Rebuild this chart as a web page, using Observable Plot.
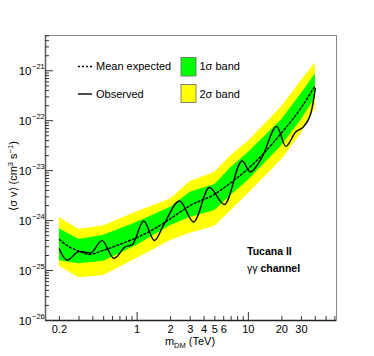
<!DOCTYPE html>
<html><head><meta charset="utf-8">
<script src="https://cdn.jsdelivr.net/npm/d3@7"></script>
<script src="https://cdn.jsdelivr.net/npm/@observablehq/plot@0.6"></script>
<style>
body{margin:0;background:#fff}
svg{font-family:"Liberation Sans",Arial,Helvetica,sans-serif}
</style>
</head><body><div id="chart"></div>
<script>
// ---- data ----
const massBand   = [0.2, 0.3, 0.5, 1, 2, 3, 5, 7, 10, 20, 30, 40];
const yellowHigh = [1.15e-24, 6.6e-25, 7.9e-25, 1.5e-24, 2.7e-24, 6.1e-24, 9.3e-24, 2.0e-23, 3.9e-23, 1.93e-22, 6.4e-22, 1.43e-21];
const greenHigh  = [6.9e-25, 4.2e-25, 5.1e-25, 9.3e-25, 1.85e-24, 3.7e-24, 5.3e-24, 1.16e-23, 2.3e-23, 1.06e-22, 3.5e-22, 8.6e-22];
const greenLow   = [1.57e-25, 1.37e-25, 1.53e-25, 3.2e-25, 8.0e-25, 1.16e-24, 1.6e-24, 3.2e-24, 6.4e-24, 3.2e-23, 1.06e-22, 2.8e-22];
const yellowLow  = [1.22e-25, 7.2e-26, 8.0e-26, 1.76e-25, 4.0e-25, 5.6e-25, 7.7e-25, 1.6e-24, 3.5e-24, 1.68e-23, 5.6e-23, 1.76e-22];

const massExpected = [0.2, 0.25, 0.3, 0.37, 0.5, 0.7, 1, 1.5, 2, 3, 5, 7, 10, 20, 30, 40];
const meanExpected = [4.2e-25, 2.9e-25, 2.45e-25, 2.1e-25, 2.55e-25, 3.35e-25, 4.6e-25, 7.3e-25, 1.1e-24, 2.0e-24, 3.4e-24, 5.8e-24, 1.1e-23, 5.8e-23, 1.85e-22, 5.1e-22];

const massObserved = [0.2, 0.235, 0.3, 0.38, 0.483, 0.62, 0.785, 0.9, 1.146, 1.43, 1.73, 2.41, 3.22, 4.46, 6.09, 8.78, 10.4, 13.3, 18.0, 21.7, 26.5, 31.8, 36.8, 40];
const observed     = [2.67e-25, 1.61e-25, 2.4e-25, 2.25e-25, 3.98e-25, 1.76e-25, 3.0e-25, 3.25e-25, 9.8e-25, 4.0e-25, 8.2e-25, 2.47e-24, 9.4e-25, 4.6e-24, 2.1e-24, 1.56e-23, 9.4e-24, 1.87e-23, 7.7e-23, 3.06e-23, 5.9e-23, 7.9e-23, 1.53e-22, 4.4e-22];

const xTickLabels = [0.2, 1, 2, 3, 4, 5, 6, 10, 20, 30];
const yDecades = [-26, -25, -24, -23, -22, -21];
const xDomain = [0.15, 62];
const yDomain = [1e-26, 5.08e-21];

// ---- derived tables ----
const band = massBand.map((m, i) => ({m, yh: yellowHigh[i], gh: greenHigh[i], gl: greenLow[i], yl: yellowLow[i]}));
const expected = massExpected.map((m, i) => ({m, v: meanExpected[i]}));
const obs = massObserved.map((m, i) => ({m, v: observed[i]}));

// tick positions (log minor ticks)
const xMinor = [], xMajor = [1, 10];
for (const dec of [0.1, 1, 10]) for (let k = 2; k <= 9; k++) { const v = k * dec; if (v >= xDomain[0] && v <= xDomain[1]) xMinor.push(v); }
const yMajor = yDecades.map(d => 10 ** d);
const yMinor = [];
for (const d of yDecades) for (let k = 2; k <= 9; k++) { const v = k * 10 ** d; if (v <= yDomain[1]) yMinor.push(v); }

const W = 374, H = 356, mL = 45, mR = 38, mT = 35, mB = 36;
const frameH = H - mT - mB, frameW = W - mL - mR;

const chart = Plot.plot({
  width: W, height: H,
  marginLeft: mL, marginRight: mR, marginTop: mT, marginBottom: mB,
  style: {fontFamily: '"Liberation Sans", Arial, sans-serif', fontSize: "11px", background: "#fff"},
  x: {type: "log", domain: xDomain, axis: null},
  y: {type: "log", domain: yDomain, axis: null},
  marks: [
    Plot.areaY(band, {x: "m", y1: "yl", y2: "yh", fill: "#ffff00"}),
    Plot.areaY(band, {x: "m", y1: "gl", y2: "gh", fill: "#00ff00"}),
    Plot.line(expected, {x: "m", y: "v", stroke: "#000", strokeWidth: 1.4, strokeDasharray: "2,2.2", curve: "monotone-x"}),
    Plot.line(obs, {x: "m", y: "v", stroke: "#000", strokeWidth: 1.4, curve: "monotone-x"}),
    Plot.frame({stroke: "#888", strokeWidth: 1}),
    Plot.ruleX([xDomain[0]], {stroke: "#666", strokeWidth: 1.6}),
    Plot.ruleY([yDomain[0]], {stroke: "#222", strokeWidth: 1.4}),
    // inside ticks
    Plot.tickX(xMinor, {x: d => d, insetTop: frameH - 4, stroke: "#333"}),
    Plot.tickX(xMajor, {x: d => d, insetTop: frameH - 8, stroke: "#333"}),
    Plot.tickY(yMinor, {y: d => d, insetRight: frameW - 4, stroke: "#333"}),
    Plot.tickY(yMajor, {y: d => d, insetRight: frameW - 8, stroke: "#333"}),
    // tick labels
    Plot.text(xTickLabels, {x: d => d, text: d => String(d), frameAnchor: "bottom", lineAnchor: "top", dy: 5, fontSize: 11, fill: "#000"}),
    Plot.text(yMajor, {y: d => d, text: () => "10", frameAnchor: "left", textAnchor: "end", dx: -14, dy: 1, fontSize: 11.5, fill: "#000"}),
    Plot.text(yDecades, {y: d => 10 ** d, text: d => "\u2212" + Math.abs(d), frameAnchor: "left", textAnchor: "start", dx: -13.5, dy: -4, fontSize: 7.5, fill: "#000"})
  ]
});
document.getElementById("chart").append(chart);

// ---- legend & annotations ----
const svg = d3.select(chart);
const g = svg.append("g").attr("fill", "#000").attr("text-anchor", "start").style("font-size", "11px");
g.append("line").attr("x1", 78).attr("x2", 92).attr("y1", 66.5).attr("y2", 66.5)
  .attr("stroke", "#000").attr("stroke-width", 1.4).attr("stroke-dasharray", "2,2");
g.append("text").attr("x", 96).attr("y", 70).text("Mean expected");
g.append("line").attr("x1", 78).attr("x2", 92).attr("y1", 94).attr("y2", 94)
  .attr("stroke", "#000").attr("stroke-width", 1.4);
g.append("text").attr("x", 96).attr("y", 97.5).text("Observed");
g.append("rect").attr("x", 181).attr("y", 57.5).attr("width", 15).attr("height", 18.5)
  .attr("fill", "#00ff00").attr("stroke", "#666").attr("stroke-width", 0.8);
g.append("text").attr("x", 199.5).attr("y", 70).text("1\u03c3 band");
g.append("rect").attr("x", 181).attr("y", 84.5).attr("width", 15).attr("height", 18)
  .attr("fill", "#ffff00").attr("stroke", "#666").attr("stroke-width", 0.8);
g.append("text").attr("x", 199.5).attr("y", 97.5).text("2\u03c3 band");

g.append("text").attr("x", 247).attr("y", 255).style("font-weight", "bold").style("font-size", "10.5px").text("Tucana II");
const t2 = g.append("text").attr("x", 247).attr("y", 272).style("font-size", "10.5px");
t2.append("tspan").text("\u03b3\u03b3 ");
t2.append("tspan").style("font-weight", "bold").text("channel");

// axis titles
const yt = g.append("text").attr("transform", "translate(17,176) rotate(-90)").attr("text-anchor", "middle");
yt.append("tspan").text("\u27e8\u03c3 v\u27e9 (cm");
yt.append("tspan").attr("dy", -4).style("font-size", "7.5px").text("3");
yt.append("tspan").attr("dy", 4).text(" s");
yt.append("tspan").attr("dy", -4).style("font-size", "7.5px").text("\u22121");
yt.append("tspan").attr("dy", 4).text(")");

const xt = g.append("text").attr("x", 190).attr("y", 345).attr("text-anchor", "middle");
xt.append("tspan").text("m");
xt.append("tspan").attr("dy", 3).style("font-size", "7.5px").text("DM");
xt.append("tspan").attr("dy", -3).text(" (TeV)");
</script>
</body></html>
